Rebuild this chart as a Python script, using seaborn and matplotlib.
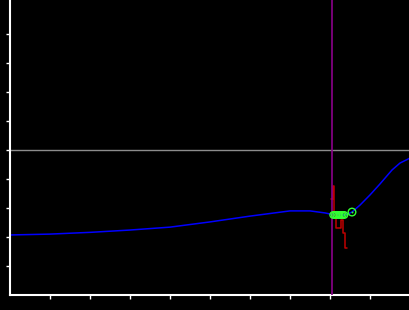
import matplotlib
matplotlib.use("Agg")
import matplotlib.pyplot as plt
import seaborn as sns
import numpy as np

# Blue trace
blue_x = [0, 1, 2, 3, 4, 5, 6, 7, 7.5, 7.875, 8.05, 8.375, 8.55, 8.75, 9.0, 9.25, 9.55, 9.75, 10]
blue_y = [-2.93, -2.90, -2.84, -2.76, -2.66, -2.48, -2.28, -2.10, -2.10, -2.17, -2.22, -2.24,
          -2.14, -1.90, -1.55, -1.17, -0.69, -0.45, -0.28]

# Red jagged trace (step form)
red_x = [8.025, 8.07, 8.10, 8.15, 8.28, 8.32, 8.37, 8.43]
red_y = [-1.69, -1.24, -2.14, -2.69, -2.41, -2.86, -3.38, -3.38]

# Green markers
green_x = [8.08, 8.12, 8.16, 8.20, 8.24, 8.28, 8.32, 8.36]
green_y = [-2.24, -2.24, -2.24, -2.24, -2.24, -2.24, -2.24, -2.24]
green_big_x = [8.55]
green_big_y = [-2.14]

cursor_x = 8.05
ref_y = 0.0

sns.set_style("dark", {"axes.facecolor": "black", "figure.facecolor": "black"})

fig = plt.figure(figsize=(4.1, 3.1), dpi=100)
ax = fig.add_axes([10 / 410, 15 / 310, 400 / 410, 295 / 310])
ax.set_facecolor("black")

ax.axhline(ref_y, color="#8c8c8c", lw=1.0, zorder=1)

sns.lineplot(x=blue_x, y=blue_y, ax=ax, color="#0000ff", lw=1.1, sort=False, zorder=2)
sns.lineplot(x=red_x, y=red_y, ax=ax, color="#c00000", lw=1.1, sort=False,
             drawstyle="steps-post", zorder=3)
ax.axvline(cursor_x, color="#8b008b", lw=1.2, zorder=4)
sns.scatterplot(x=green_x, y=green_y, ax=ax, marker="o", s=22, facecolor="none",
                edgecolor="#33ff33", linewidth=1.0, zorder=5)
sns.scatterplot(x=green_big_x, y=green_big_y, ax=ax, marker="o", s=30, facecolor="none",
                edgecolor="#33ff33", linewidth=1.0, zorder=5)
sns.scatterplot(x=green_big_x, y=green_big_y, ax=ax, marker="o", s=2, color="#33ff33",
                linewidth=0, zorder=5)

ax.set_xlim(0, 10)
ax.set_ylim(-5, 150 / 29)
ax.set_xticks(np.arange(1, 10))
ax.set_yticks(np.arange(-4, 5))
ax.set_xticklabels([])
ax.set_yticklabels([])
ax.tick_params(colors="white", direction="out", length=3, width=1, bottom=True, left=True)
ax.grid(False)
for s in ["top", "right"]:
    ax.spines[s].set_visible(False)
for s in ["left", "bottom"]:
    ax.spines[s].set_visible(True)
    ax.spines[s].set_color("white")
    ax.spines[s].set_linewidth(1.5)
ax.set_xlabel("")
ax.set_ylabel("")

fig.savefig("out.png", dpi=100, facecolor="black")
